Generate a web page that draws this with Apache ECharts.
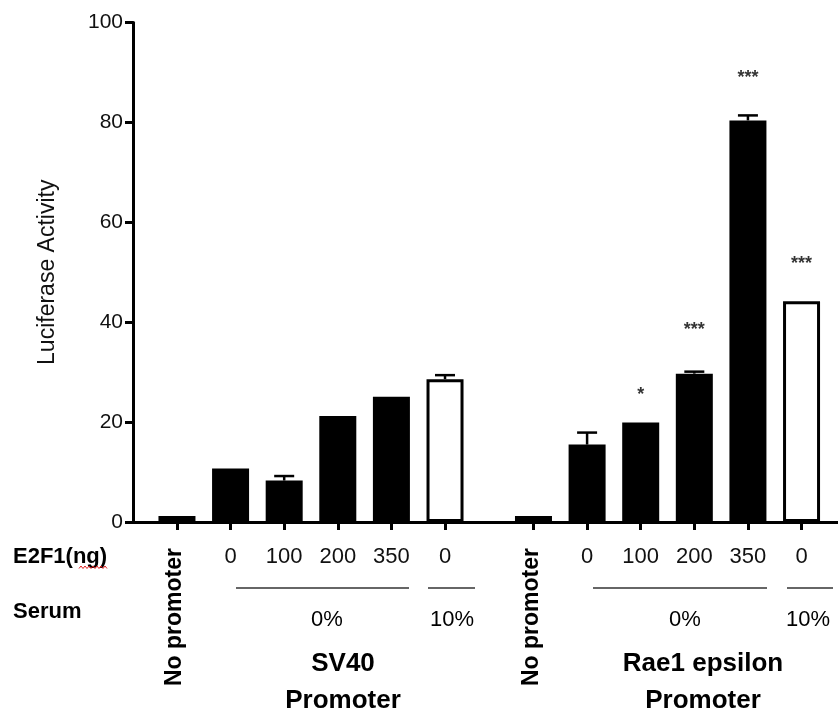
<!DOCTYPE html>
<html>
<head>
<meta charset="utf-8">
<script src="https://cdn.jsdelivr.net/npm/echarts@6/dist/echarts.min.js"></script>
<style>
  html, body { margin: 0; padding: 0; background: #fff; }
  #main { width: 838px; height: 717px; }
</style>
</head>
<body>
<div id="main"></div>
<script>
// bar positions on the x axis (SV40 group, then Rae1 epsilon group)
var barPos = [0, 1, 2, 3, 4, 5, 6.65, 7.65, 8.65, 9.65, 10.65, 11.65];
var e2f1Labels = ['', '0', '100', '200', '350', '0', '', '0', '100', '200', '350', '0'];
var luciferase = [1.2, 10.7, 8.3, 21.2, 25.1, 28.6, 1.2, 15.5, 19.9, 29.7, 80.4, 44.2];
var sem = [0, 0, 0.9, 0, 0, 0.8, 0, 2.4, 0, 0.4, 1.0, 0];
var serum10 = [0, 0, 0, 0, 0, 1, 0, 0, 0, 0, 0, 1];
var signif = ['', '', '', '', '', '', '', '', '*', '***', '***', '***'];
var signifY = [0, 0, 0, 0, 0, 0, 0, 0, 25.4, 38.4, 88.8, 51.6];

var FONT = 'Liberation Sans, Arial, Helvetica, sans-serif';

var myChart = echarts.init(document.getElementById('main'));

var barData = barPos.map(function (x, i) {
    return {
        value: [x, luciferase[i]],
        itemStyle: {
            color: serum10[i] ? '#fff' : '#000',
            borderColor: '#000',
            borderWidth: serum10[i] ? 3 : 2
        }
    };
});

var errData = [];
barPos.forEach(function (x, i) {
    if (sem[i] > 0) errData.push([x, luciferase[i], luciferase[i] + sem[i]]);
});

var starData = [];
barPos.forEach(function (x, i) {
    if (signif[i]) starData.push({ value: [x, signifY[i]], label: { formatter: signif[i] } });
});

var option = {
    animation: false,
    grid: { left: 133, right: 0, top: 22.5, bottom: 195, outerBoundsMode: 'none' },
    xAxis: {
        type: 'value',
        min: -0.82,
        max: 12.33,
        splitLine: { show: false },
        axisLine: { onZero: false, lineStyle: { color: '#000', width: 3 } },
        axisTick: { show: true, customValues: barPos, length: 8, lineStyle: { color: '#000', width: 3 } },
        axisLabel: {
            customValues: barPos,
            margin: 24,
            fontFamily: FONT,
            fontSize: 22,
            color: '#111',
            formatter: function (v) {
                for (var i = 0; i < barPos.length; i++) {
                    if (Math.abs(barPos[i] - v) < 0.01) return e2f1Labels[i];
                }
                return '';
            }
        }
    },
    yAxis: {
        type: 'value',
        min: 0,
        max: 100,
        interval: 20,
        name: 'Luciferase Activity',
        nameLocation: 'middle',
        nameGap: 74,
        nameTextStyle: { fontFamily: FONT, fontSize: 23, color: '#111' },
        splitLine: { show: false },
        axisLine: { show: true, onZero: false, lineStyle: { color: '#000', width: 3 } },
        axisTick: { show: true, length: 8, lineStyle: { color: '#000', width: 3 } },
        axisLabel: { margin: 10, fontFamily: FONT, fontSize: 21, color: '#111' }
    },
    series: [
        {
            type: 'bar',
            barWidth: 37,
            data: barData,
            z: 2
        },
        {
            type: 'custom',
            z: 3,
            data: errData,
            renderItem: function (params, api) {
                var p0 = api.coord([api.value(0), api.value(1)]);
                var p1 = api.coord([api.value(0), api.value(2)]);
                var st = { stroke: '#000', lineWidth: 2.5 };
                return {
                    type: 'group',
                    children: [
                        { type: 'line', shape: { x1: p0[0], y1: p0[1], x2: p1[0], y2: p1[1] }, style: st },
                        { type: 'line', shape: { x1: p1[0] - 10, y1: p1[1], x2: p1[0] + 10, y2: p1[1] }, style: st }
                    ]
                };
            }
        },
        {
            type: 'scatter',
            symbolSize: 1,
            itemStyle: { color: 'rgba(0,0,0,0)' },
            data: starData,
            z: 4,
            label: {
                show: true,
                position: 'inside',
                fontFamily: FONT,
                fontSize: 18,
                fontWeight: 'bold',
                color: '#000'
            }
        }
    ]
};
myChart.setOption(option);

// annotation texts below the axis
function px(v) { return myChart.convertToPixel({ xAxisIndex: 0 }, v); }
function txt(x, y, s, size, bold, extra) {
    var el = {
        type: 'text', x: x, y: y,
        style: {
            text: s, fontFamily: FONT, fontSize: size,
            fontWeight: bold ? 'bold' : 'normal',
            fill: '#000', align: 'center', verticalAlign: 'middle'
        }
    };
    if (extra) for (var k in extra) el[k] = extra[k];
    return el;
}
function hline(x1, x2, y) {
    return { type: 'line', shape: { x1: x1, y1: y, x2: x2, y2: y }, style: { stroke: '#333', lineWidth: 1.5 } };
}

var squiggle = [];
for (var sx = 79; sx <= 107; sx += 2) squiggle.push([sx, (sx % 4 === 1) ? 566 : 568.5]);

var g = [];
var e2 = txt(13, 557, 'E2F1(ng)', 22, true);
e2.style.align = 'left';
g.push(e2);
g.push({ type: 'polyline', shape: { points: squiggle }, style: { stroke: '#e02020', lineWidth: 1, fill: null } });
var se = txt(13, 612, 'Serum', 22, true);
se.style.align = 'left';
g.push(se);

g.push(txt(px(0) - 2, 617, 'No promoter', 23, true, { rotation: Math.PI / 2 }));
g.push(txt(px(6.65) - 2, 617, 'No promoter', 23, true, { rotation: Math.PI / 2 }));

g.push(hline(236, 409, 588));
g.push(hline(428, 475, 588));
g.push(hline(593, 767, 588));
g.push(hline(787, 833, 588));

g.push(txt(327, 620, '0%', 22, false));
g.push(txt(452, 620, '10%', 22, false));
g.push(txt(685, 620, '0%', 22, false));
g.push(txt(808, 620, '10%', 22, false));

g.push(txt(343, 664, 'SV40', 26, true));
g.push(txt(343, 701, 'Promoter', 26, true));
g.push(txt(703, 664, 'Rae1 epsilon', 26, true));
g.push(txt(703, 701, 'Promoter', 26, true));

myChart.setOption({ graphic: g });
</script>
</body>
</html>
